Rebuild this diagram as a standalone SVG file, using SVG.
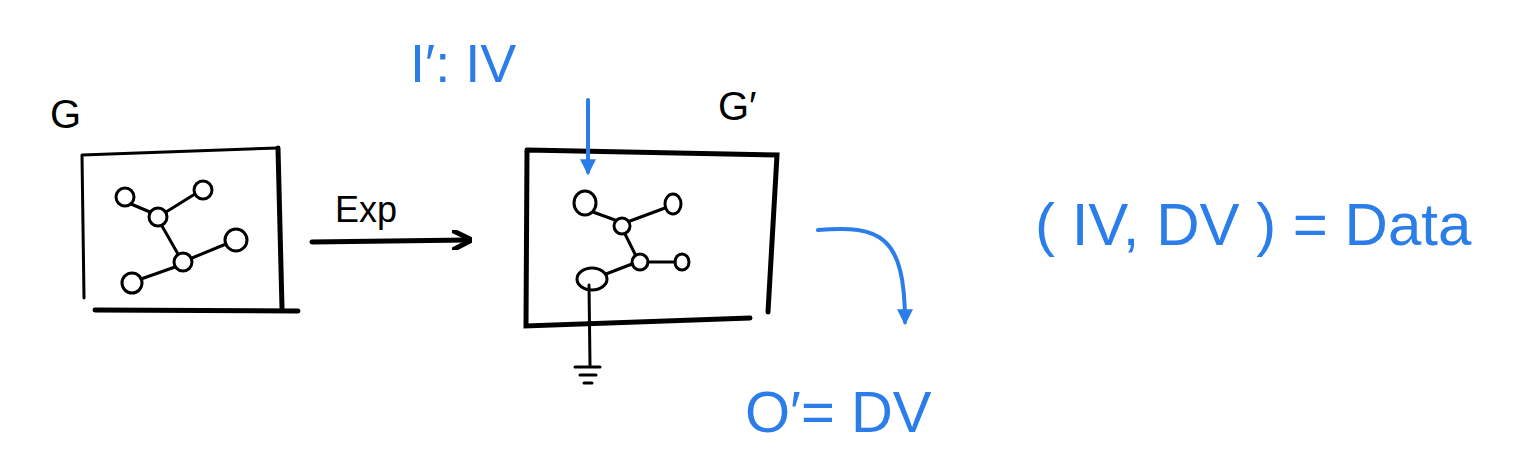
<svg xmlns="http://www.w3.org/2000/svg" width="1513" height="458" viewBox="0 0 1513 458">
<style>
.k{fill:none;stroke:#000;stroke-width:3;stroke-linecap:round}
.kb{fill:none;stroke:#000;stroke-width:5;stroke-linecap:round}
.b{fill:none;stroke:#2b7de9;stroke-width:4;stroke-linecap:round}
.tk{font-family:"Liberation Sans",sans-serif;fill:#000}
.tb{font-family:"Liberation Sans",sans-serif;fill:#2b7de9}
</style>
<defs>
<marker id="ak" viewBox="0 0 10 10" refX="8" refY="5" markerWidth="4" markerHeight="4" orient="auto"><path d="M0,0 L10,5 L0,10" fill="none" stroke="#000" stroke-width="2.5"/></marker>
<marker id="ab" viewBox="0 0 10 10" refX="8" refY="5" markerWidth="4" markerHeight="4" orient="auto"><path d="M0,0 L10,5 L0,10 z" fill="#2b7de9"/></marker>
</defs>
<rect width="1513" height="458" fill="#fff"/>
<g id="G">
<text class="tk" x="50" y="128" font-size="40">G</text>
<path class="k" d="M82,155 L278,148 M82,155 L84,298"/>
<path class="kb" d="M278,148 L282,308 M95,310 L298,311"/>
<g class="k">
<circle cx="125" cy="197" r="9"/><circle cx="158" cy="217" r="9"/><circle cx="203" cy="190" r="9"/>
<circle cx="236" cy="240" r="11"/><circle cx="183" cy="262" r="9"/><circle cx="132" cy="283" r="10"/>
<path d="M131,204 L150,212 M166,212 L195,194 M162,226 L178,254 M192,258 L226,244 M175,267 L141,279"/>
</g>
</g>
<g id="Gp">
<text class="tk" x="718" y="120" font-size="40">G′</text>
<path class="kb" d="M527,150 L777,155 L768,312 M527,150 L526,326 L750,318"/>
<g class="k">
<ellipse cx="585" cy="203" rx="11" ry="12"/><circle cx="622" cy="226" r="8"/><ellipse cx="673" cy="204" rx="8" ry="10"/>
<circle cx="640" cy="262" r="8"/><ellipse cx="682" cy="262" rx="7" ry="8"/><ellipse cx="592" cy="279" rx="15" ry="11"/>
<path d="M593,212 L615,220 M630,221 L665,208 M625,234 L635,254 M648,262 L675,262 M632,264 L606,274"/>
<path d="M589,285 L590,365 M575,367 L600,367 M580,375 L596,375 M584,383 L592,383"/>
</g>
</g>
<g id="connectors">
<path class="kb" d="M312,242 L468,240" marker-end="url(#ak)"/>
<text class="tk" x="335" y="222" font-size="36">Exp</text>
<path class="b" d="M588,100 L588,172" marker-end="url(#ab)"/>
<path class="b" d="M818,230 C880,225 905,235 905,322" marker-end="url(#ab)"/>
</g>
<g id="labels">
<text class="tb" x="410" y="82" font-size="54">I′: IV</text>
<text class="tb" x="745" y="432" font-size="58">O′= DV</text>
<text class="tb" x="1035" y="245" font-size="60">( IV, DV ) = Data</text>
</g>
</svg>
